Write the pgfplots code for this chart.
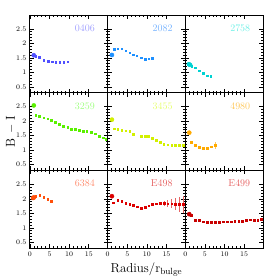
\documentclass[border=0pt]{standalone}
\usepackage{pgfplots}
\pgfplotsset{compat=1.18}
\usepgfplotslibrary{groupplots}
\definecolor{c1}{RGB}{80,80,255}\definecolor{l1}{RGB}{160,160,255}
\definecolor{c2}{RGB}{30,144,255}\definecolor{l2}{RGB}{120,180,255}
\definecolor{c3}{RGB}{0,210,210}\definecolor{l3}{RGB}{110,240,230}
\definecolor{c4}{RGB}{90,240,0}\definecolor{l4}{RGB}{160,255,130}
\definecolor{c5}{RGB}{210,240,0}\definecolor{l5}{RGB}{230,255,110}
\definecolor{c6}{RGB}{255,170,0}\definecolor{l6}{RGB}{255,200,90}
\definecolor{c7}{RGB}{255,80,10}\definecolor{l7}{RGB}{255,140,110}
\definecolor{c8}{RGB}{220,0,0}\definecolor{l8}{RGB}{230,100,100}
\definecolor{c9}{RGB}{200,0,0}\definecolor{l9}{RGB}{230,100,100}
\tikzset{
  sm/.style={only marks, mark=square*, mark size=0.85pt, color=#1},
  bg/.style={only marks, mark=*, mark size=2.1pt, color=#1},
  lab/.style={anchor=north east, font=\normalsize, text=#1},
}
\begin{document}
\begin{tikzpicture}
\begin{groupplot}[
  group style={group size=3 by 3, horizontal sep=0pt, vertical sep=0pt,
    xticklabels at=edge bottom, yticklabels at=edge left},
  width=78pt, height=78pt, scale only axis,
  xmin=0, xmax=19.8, ymin=0.3, ymax=2.98,
  xtick={0,5,10,15}, ytick={0.5,1,1.5,2,2.5},
  minor x tick num=4, minor y tick num=4,
  tick align=inside, major tick length=4pt, minor tick length=2pt,
  ticklabel style={font=\scriptsize},
  axis line style={line width=0.8pt}, every tick/.style={black, line width=0.6pt},
  error bars/y dir=both, error bars/y explicit, error bars/error mark=none,
]
% 0406
\nextgroupplot
\addplot[sm=c1] coordinates {(1.5,1.55)(2.4,1.52)(3.5,1.43)(4.6,1.38)(5.6,1.37)(6.6,1.36)(7.6,1.36)(8.6,1.36)(9.6,1.37)};
\addplot[bg=c1] coordinates {(1.0,1.59)};
\node[lab=l1] at (rel axis cs:0.88,0.92) {0406};
% 2082
\nextgroupplot
\addplot[sm=c2] coordinates {(1.6,1.80)(2.6,1.82)(3.6,1.82)(4.6,1.75)(5.6,1.68)(6.5,1.61)(7.4,1.58)(8.5,1.51)(9.5,1.46)(10.5,1.47)(11.4,1.49)};
\addplot[bg=c2] coordinates {(1.1,1.60)};
\node[lab=l2] at (rel axis cs:0.88,0.92) {2082};
% 2758
\nextgroupplot
\addplot[sm=c3] coordinates {(1.6,1.22)(2.5,1.16)(3.55,1.06)(4.6,0.96)(5.6,0.88)(6.5,0.87)};
\addplot[bg=c3] coordinates {(0.9,1.28)(1.2,1.26)};
\node[lab=l3] at (rel axis cs:0.88,0.92) {2758};
% 3259
\nextgroupplot[ylabel={\fontsize{13}{15}\selectfont B $-$ I}, ylabel style={at={(axis description cs:-0.245,0.5)}, anchor=center}]
\addplot[sm=c4] coordinates {(1.45,2.20)(2.45,2.17)(3.5,2.12)(4.5,2.08)(5.5,2.03)(6.5,1.96)(7.5,1.89)(8.5,1.83)(9.6,1.78)(10.5,1.72)(11.5,1.71)(12.5,1.68)(13.5,1.66)(14.5,1.65)(15.6,1.61)(16.6,1.56)(17.6,1.49)(18.6,1.43)(19.5,1.37)};
\addplot[bg=c4] coordinates {(1.0,2.54)};
\node[lab=l4] at (rel axis cs:0.88,0.92) {3259};
% 3455
\nextgroupplot
\addplot[sm=c5] coordinates {(1.6,1.74)(2.6,1.71)(3.6,1.68)(4.6,1.67)(5.6,1.64)(6.6,1.55)(8.55,1.48)(9.5,1.47)(10.4,1.47)(11.4,1.41)(12.4,1.35)(13.4,1.27)(14.3,1.21)(15.3,1.19)(16.3,1.18)(17.3,1.18)(18.3,1.17)(19.2,1.17)};
\addplot[bg=c5] coordinates {(1.1,2.05)};
\node[lab=l5] at (rel axis cs:0.88,0.92) {3455};
% 4980
\nextgroupplot
\addplot[sm=c6, error bars/error bar style={color=l6, line width=0.4pt}] coordinates {(1.5,1.27)+-(0,0)(2.5,1.18)+-(0,0)(3.55,1.11)+-(0,0)(4.6,1.06)+-(0,0)(5.6,1.06)+-(0,0)(6.6,1.12)+-(0,0.02)(7.6,1.17)+-(0,0.12)};
\addplot[bg=c6] coordinates {(1.0,1.60)};
\node[lab=l6] at (rel axis cs:0.88,0.92) {4980};
% 6384
\nextgroupplot
\addplot[sm=c7] coordinates {(1.45,2.08)(2.5,2.12)(3.55,2.05)(4.5,1.98)(5.5,1.91)};
\addplot[bg=c7] coordinates {(0.8,2.03)(1.05,2.05)};
\node[lab=l7] at (rel axis cs:0.88,0.92) {6384};
% E498
\nextgroupplot[xlabel={\fontsize{13}{15}\selectfont Radius/r$_{\mathrm{bulge}}$}]
\addplot[sm=c8, error bars/error bar style={color=l8, line width=0.4pt}] coordinates {(1.5,1.87)+-(0,0)(2.6,1.96)+-(0,0)(3.6,1.92)+-(0,0)(4.6,1.84)+-(0,0)(5.6,1.82)+-(0,0)(6.6,1.77)+-(0,0)(7.6,1.73)+-(0,0)(8.5,1.68)+-(0,0)(9.5,1.72)+-(0,0)(10.5,1.76)+-(0,0.01)(11.4,1.81)+-(0,0.02)(12.4,1.83)+-(0,0.03)(13.4,1.84)+-(0,0.05)(14.4,1.84)+-(0,0.08)(15.3,1.83)+-(0,0.12)(16.3,1.83)+-(0,0.16)(17.3,1.82)+-(0,0.2)(18.3,1.81)+-(0,0.25)(19.3,1.81)+-(0,0.3)};
\addplot[bg=c8] coordinates {(1.1,2.09)};
\node[lab=l8] at (rel axis cs:0.88,0.92) {E498};
% E499
\nextgroupplot
\addplot[sm=c9] coordinates {(1.45,1.44)(2.5,1.27)(3.55,1.27)(4.6,1.21)(5.6,1.20)(6.6,1.20)(7.6,1.19)(8.6,1.20)(9.6,1.21)(10.6,1.21)(11.6,1.21)(12.6,1.22)(13.6,1.23)(14.5,1.24)(15.5,1.27)(16.5,1.28)(17.5,1.27)(18.4,1.27)(19.4,1.29)};
\addplot[bg=c9] coordinates {(1.0,1.47)};
\node[lab=l9] at (rel axis cs:0.88,0.92) {E499};
\end{groupplot}
\pgfresetboundingbox
\path ([shift={(-30pt,15pt)}]group c1r1.north west) rectangle ([shift={(15pt,-31pt)}]group c3r3.south east);
\end{tikzpicture}
\end{document}
